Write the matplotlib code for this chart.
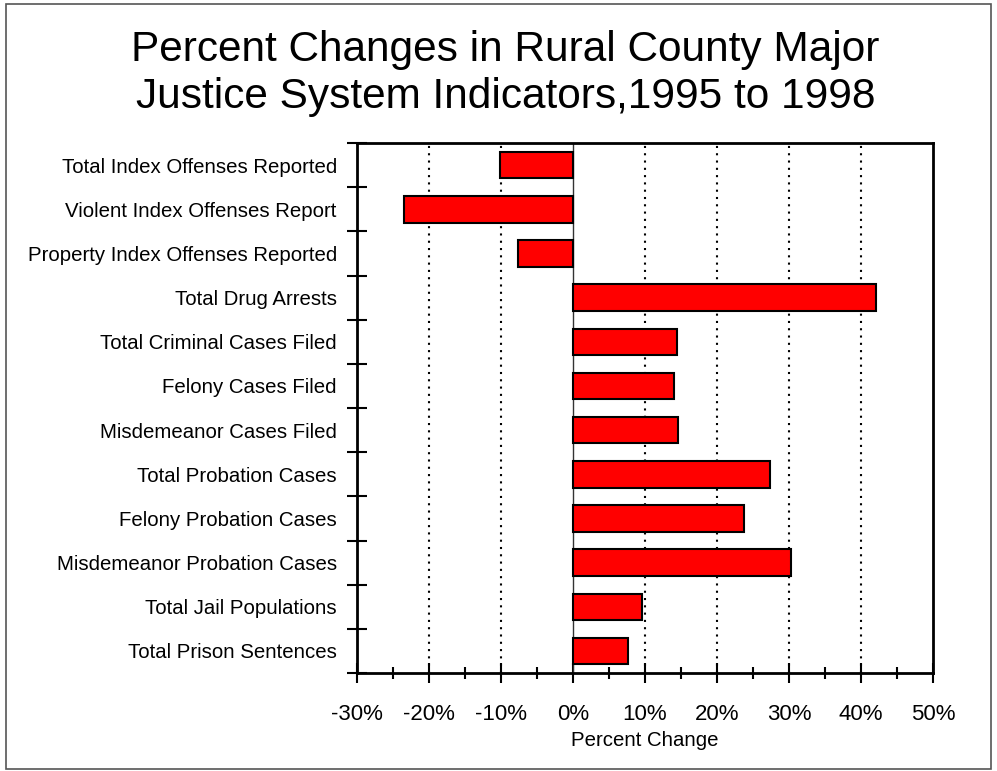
import numpy as np
import matplotlib.pyplot as plt
from matplotlib.patches import Rectangle

plt.rcParams['font.family'] = ['Liberation Sans', 'DejaVu Sans']

# Indicadores e variação percentual 1995-1998
indicators = [
    "Total Index Offenses Reported",
    "Violent Index Offenses Report",
    "Property Index Offenses Reported",
    "Total Drug Arrests",
    "Total Criminal Cases Filed",
    "Felony Cases Filed",
    "Misdemeanor Cases Filed",
    "Total Probation Cases",
    "Felony Probation Cases",
    "Misdemeanor Probation Cases",
    "Total Jail Populations",
    "Total Prison Sentences",
]
pct_change = [-10.1, -23.4, -7.7, 42.1, 14.4, 14.0, 14.6, 27.3, 23.7, 30.3, 9.6, 7.7]
x_ticks = [-30, -20, -10, 0, 10, 20, 30, 40, 50]
x_tick_labels = [f"{v}%" for v in x_ticks]

fig = plt.figure(figsize=(9.97, 7.71), dpi=100)
ax = fig.add_axes([0.358, 0.127, 0.578, 0.6875])

y = np.arange(len(indicators))
ax.barh(y, pct_change, height=0.6, color='#ff0000', edgecolor='black', linewidth=1.5, zorder=3)

ax.set_xlim(-30, 50)
ax.set_ylim(len(indicators) - 0.5, -0.5)

# grade pontilhada vertical
for v in x_ticks[1:-1]:
    if v == 0:
        ax.axvline(0, color='#333333', linewidth=1.0, zorder=2)
    else:
        ax.axvline(v, color='black', linestyle=(0, (1, 2.5)), linewidth=1.5, zorder=1)

ax.set_xticks(x_ticks)
ax.set_xticklabels(x_tick_labels, fontsize=16)
ax.set_xticks(np.arange(-25, 50, 10), minor=True)
ax.tick_params(axis='x', which='major', direction='inout', length=14, width=1.5, pad=15)
ax.tick_params(axis='x', which='minor', direction='inout', length=9, width=1.5)

ax.set_yticks(y)
ax.set_yticklabels(indicators, fontsize=14.7)
ax.tick_params(axis='y', which='major', length=0, pad=14.5)
ax.set_yticks(np.arange(-0.5, len(indicators), 1.0), minor=True)
ax.tick_params(axis='y', which='minor', direction='inout', length=14, width=1.5)

ax.set_xlabel("Percent Change", fontsize=14.7, labelpad=4.5)

for s in ax.spines.values():
    s.set_linewidth(2)

fig.text(0.507, 0.9209, "Percent Changes in Rural County Major", ha='center', va='baseline', fontsize=30.5)
fig.text(0.507, 0.8599, "Justice System Indicators,1995 to 1998", ha='center', va='baseline', fontsize=30.5)

fig.patches.append(Rectangle((0.006, 0.002), 0.988, 0.993, transform=fig.transFigure,
                             fill=False, edgecolor='#555555', linewidth=1.2))

fig.savefig("out.png", dpi=100)
